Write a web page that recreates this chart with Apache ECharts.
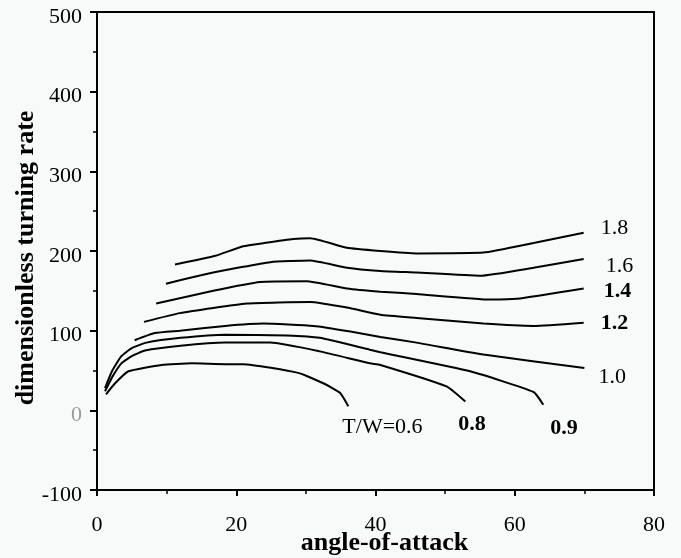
<!DOCTYPE html>
<html>
<head>
<meta charset="utf-8">
<script src="https://cdn.jsdelivr.net/npm/echarts@6/dist/echarts.min.js"></script>
<style>
html,body{margin:0;padding:0;background:#f8f9f9;}
#chart{width:681px;height:558px;}
</style>
</head>
<body>
<div id="chart"></div>
<script>
// angle-of-attack (deg) vs dimensionless turning rate, one curve per T/W
const tw18 = [[11.2,183],[17,194],[21,206],[24,210],[28.2,215],[30.6,216],[35.9,204],[40.7,200],[45.9,197],[55.5,198],[62.7,210],[69.9,223]];
const tw16 = [[9.9,159],[16.7,173],[24.9,186],[30.6,188],[35.9,179],[40.7,175],[45.9,173],[55,169],[62.7,179],[69.9,190]];
const tw14 = [[8.5,134],[16.7,150],[23.4,161],[30.1,162],[35.9,153],[40.7,149],[45.9,146],[56.5,139],[60.3,140],[69.9,153]];
const tw12 = [[6.75,111],[11.9,122],[21.5,134],[30.6,136],[35.9,129],[40.7,120],[45.9,116],[55.5,109],[62.7,106],[69.9,110]];
const tw10 = [[5.4,88],[8.3,97],[11.9,100],[18.4,106],[23.9,109],[31.1,106],[36.4,99],[40.7,92],[45.9,85],[55.5,70],[70,53]];
const tw09 = [[1.15,28],[2.2,50],[3.5,68],[5,78],[7.1,85],[12,91],[18.4,95],[27.3,94],[32,91],[39.2,76],[40.7,73],[53.6,49],[62.7,23],[64.1,7]];
const tw08 = [[1.15,24],[2.2,42],[3.5,59],[5,68],[6.9,75],[12,81],[18.4,85],[24.9,85],[32,74],[39.2,59],[40.7,57],[50.2,30],[52.9,11]];
const tw06 = [[1.3,20],[2.5,33],[4.5,49],[9.3,57],[13.6,59],[18.4,58],[21,58],[28.9,47],[32.5,34],[34.9,22],[36.1,5]];

const curveLabels = ['1.8','1.6','1.4','1.2','1.0','0.9','0.8','T/W=0.6'];
const curveData = [tw18, tw16, tw14, tw12, tw10, tw09, tw08, tw06];
const labelBold = [false,false,true,true,false,true,true,false];
const labelOffset = [[17,-4],[22,7],[20,3],[17,1],[14,9],[7,24],[-7,23],[-6,21]];

const xTicks = {min:0, max:80, interval:20};
const yTicks = {min:-100, max:500, interval:100};

const FONT = '"Liberation Serif","DejaVu Serif",serif';

const series = curveData.map((d, i) => ({
  type: 'line',
  data: d,
  showSymbol: false,
  symbol: 'none',
  smooth: 0.15,
  lineStyle: {color: '#000', width: 2},
  silent: true,
  endLabel: {
    show: true,
    formatter: curveLabels[i],
    distance: 0,
    offset: labelOffset[i],
    fontFamily: FONT,
    fontSize: 22,
    fontWeight: labelBold[i] ? 'bold' : 'normal',
    color: '#000'
  }
}));

const chart = echarts.init(document.getElementById('chart'), null, {renderer:'canvas'});
chart.setOption({
  backgroundColor: '#f8f9f9',
  animation: false,
  grid: {left: 97, right: 27, top: 12, bottom: 68, containLabel: false, outerBoundsMode: 'none'},
  xAxis: [{
    type: 'value', min: xTicks.min, max: xTicks.max, interval: xTicks.interval,
    name: 'angle-of-attack', nameLocation: 'middle', nameGap: 40, nameMoveOverlap: false,
    nameTextStyle: {fontFamily: FONT, fontSize: 26, fontWeight: 'bold', color: '#000', padding: [0,0,0,18]},
    axisLine: {show: true, onZero: false, lineStyle: {color: '#000', width: 2}},
    axisTick: {show: true, length: 6, lineStyle: {color: '#000', width: 2}},
    minorTick: {show: true, splitNumber: 2, length: 4, lineStyle: {color: '#000', width: 1.5}},
    axisLabel: {fontFamily: FONT, fontSize: 22, color: '#000', margin: 24},
    splitLine: {show: false}
  }, {
    type: 'value', position: 'top', min: xTicks.min, max: xTicks.max,
    axisLine: {show: true, onZero: false, lineStyle: {color: '#000', width: 2}},
    axisTick: {show: false}, axisLabel: {show: false}, splitLine: {show: false}
  }],
  yAxis: [{
    type: 'value', min: yTicks.min, max: yTicks.max, interval: yTicks.interval,
    name: 'dimensionless turning rate', nameLocation: 'middle', nameGap: 58, nameMoveOverlap: false,
    nameTextStyle: {fontFamily: FONT, fontSize: 26, fontWeight: 'bold', color: '#000', padding: [0,14,0,0]},
    axisLine: {show: true, onZero: false, lineStyle: {color: '#000', width: 2}},
    axisTick: {show: true, length: 7, lineStyle: {color: '#000', width: 2}},
    minorTick: {show: true, splitNumber: 2, length: 4, lineStyle: {color: '#000', width: 1.5}},
    axisLabel: {
      fontFamily: FONT, fontSize: 22, margin: 15,
      verticalAlign: 'top', lineHeight: 10,
      color: function (v) { return Number(v) === 0 ? '#9a9a9a' : '#000'; }
    },
    splitLine: {show: false}
  }, {
    type: 'value', position: 'right', min: yTicks.min, max: yTicks.max,
    axisLine: {show: true, onZero: false, lineStyle: {color: '#000', width: 2}},
    axisTick: {show: false}, axisLabel: {show: false}, splitLine: {show: false}
  }],
  series: series
});
</script>
</body>
</html>
